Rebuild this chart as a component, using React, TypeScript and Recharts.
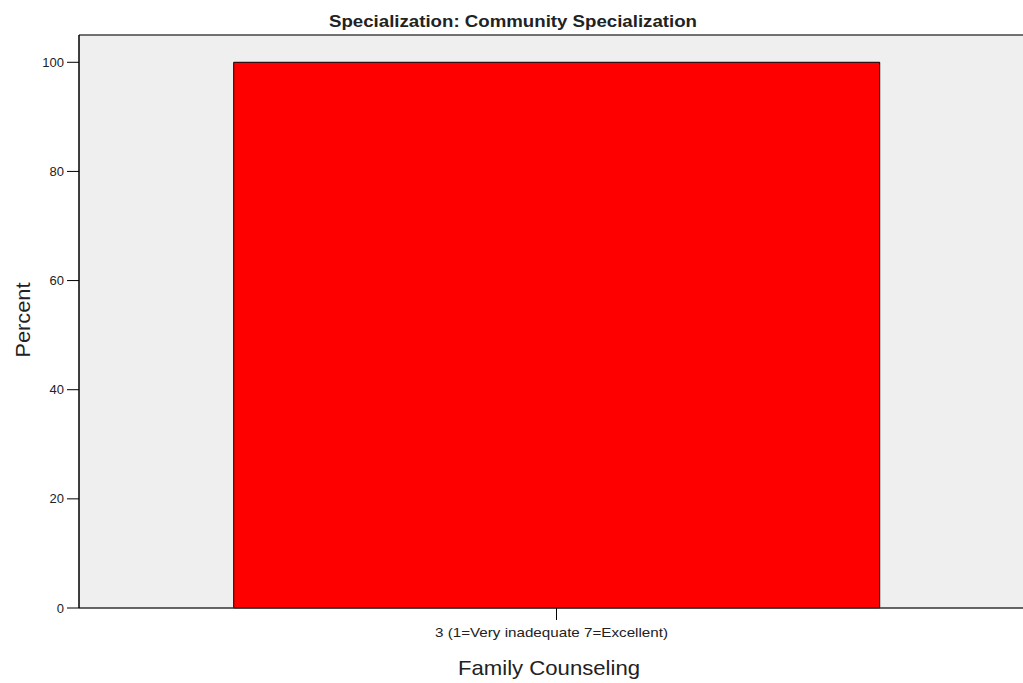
import React from 'react';
import { BarChart, Bar, XAxis, YAxis, CartesianGrid, ReferenceLine } from 'recharts';

const categories = ['3 (1=Very inadequate 7=Excellent)'];
const percentValues = [100];
const yTicks = [0, 20, 40, 60, 80, 100];

const data = categories.map((c, i) => ({ name: c, value: percentValues[i] }));

const FONT = '"Liberation Sans", Arial, sans-serif';

const XTick = (props: any) => {
  const { x, y, payload } = props;
  return (
    <text x={x - 5} y={y} dy="0.72em" textAnchor="middle" fontSize={13} fill="#222" fontFamily={FONT}
      textLength={233} lengthAdjust="spacingAndGlyphs">
      {payload.value}
    </text>
  );
};

export default function App() {
  return (
    <div style={{ position: 'absolute', left: 0, top: 0, width: 1023, height: 683, overflow: 'hidden', background: '#fff' }}>
      <BarChart width={1040} height={683} data={data} margin={{ top: 35, right: 6, left: 0, bottom: 0 }} barCategoryGap="16.2%">
        <CartesianGrid horizontal={false} vertical={false} fill="#EFEFEF" />
        <XAxis
          dataKey="name"
          height={75}
          tickSize={12}
          tickMargin={8}
          stroke="#000"
          tick={<XTick />}
          axisLine={{ stroke: '#333', strokeWidth: 1.5 }}
          tickLine={{ stroke: '#000' }}
        />
        <YAxis
          width={79}
          domain={[0, 105]}
          ticks={yTicks}
          tickSize={12}
          tickMargin={3}
          stroke="#000"
          tick={{ fontSize: 13, fill: '#222', fontFamily: FONT }}
          axisLine={{ stroke: '#000', strokeWidth: 1.5 }}
          tickLine={{ stroke: '#000' }}
        />
        <ReferenceLine y={105} stroke="#444" strokeWidth={1.5} />
        <Bar dataKey="value" fill="#FF0000" stroke="#000" strokeWidth={1} isAnimationActive={false} />
      </BarChart>
      <svg width={1023} height={683} style={{ position: 'absolute', left: 0, top: 0, pointerEvents: 'none' }}>
        <text x={513} y={27} textAnchor="middle" fontSize={17} fontWeight="bold" fill="#222" fontFamily={FONT}
          textLength={368} lengthAdjust="spacingAndGlyphs">
          Specialization: Community Specialization
        </text>
        <text x={549} y={675} textAnchor="middle" fontSize={21} fill="#222" fontFamily={FONT}
          textLength={182} lengthAdjust="spacingAndGlyphs">
          Family Counseling
        </text>
        <text x={30} y={320} transform="rotate(-90 30 320)" textAnchor="middle" fontSize={21} fill="#222" fontFamily={FONT}
          textLength={75} lengthAdjust="spacingAndGlyphs">
          Percent
        </text>
      </svg>
    </div>
  );
}
